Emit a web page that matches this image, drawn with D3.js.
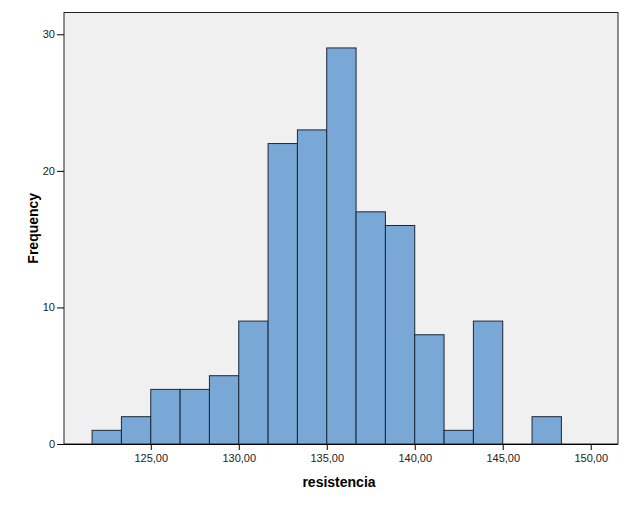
<!DOCTYPE html>
<html><head><meta charset="utf-8">
<script src="https://cdn.jsdelivr.net/npm/d3@7"></script>
<style>body{margin:0;background:#fff;}svg{display:block;}</style>
</head><body>
<script>
const binStart = 121.6667;
const binWidth = 5/3;
const counts = [1, 2, 4, 4, 5, 9, 22, 23, 29, 17, 16, 8, 1, 9, 0, 2];
const xTicks = [125, 130, 135, 140, 145, 150];
const yTicks = [0, 10, 20, 30];
const xTitle = "resistencia";
const yTitle = "Frequency";

const W = 631, H = 506;
const L = 64, R = 618, T = 12.5, B = 444;
const svg = d3.select("body").append("svg").attr("width", W).attr("height", H);
const x = d3.scaleLinear().domain([120.07, 151.55]).range([L, R]);
const y = d3.scaleLinear().domain([0, 30]).range([B, 34.3]);

svg.append("rect").attr("x", L).attr("y", T).attr("width", R - L).attr("height", B - T)
  .attr("fill", "#f0f0f0").attr("stroke", "#222").attr("stroke-width", 1);

const bins = counts.map((c, i) => ({x0: binStart + i * binWidth, x1: binStart + (i + 1) * binWidth, c}));
svg.append("g").selectAll("rect").data(bins.filter(d => d.c > 0)).join("rect")
  .attr("x", d => x(d.x0)).attr("width", d => x(d.x1) - x(d.x0))
  .attr("y", d => y(d.c)).attr("height", d => y(0) - y(d.c))
  .attr("fill", "#7aa8d6").attr("stroke", "#1b2735").attr("stroke-width", 1);

const xa = svg.append("g").attr("transform", `translate(0,${B})`)
  .call(d3.axisBottom(x).tickValues(xTicks).tickSize(6).tickPadding(4)
    .tickFormat(d => d3.format(".2f")(d).replace(".", ",")));
xa.select(".domain").attr("d", `M${L - 7},0.5H${R}`).attr("stroke", "#000");
const ya = svg.append("g").attr("transform", `translate(${L},0)`)
  .call(d3.axisLeft(y).tickValues(yTicks).tickSize(7).tickPadding(2));
ya.select(".domain").remove();
svg.selectAll(".tick line").attr("stroke", "#000");
svg.selectAll(".tick text").attr("font-family", "Liberation Sans, Arial, sans-serif")
  .attr("font-size", 11).attr("fill", "#222");

svg.append("text").attr("x", (L + R) / 2 - 2).attr("y", 487).attr("text-anchor", "middle")
  .attr("font-family", "Liberation Sans, Arial, sans-serif").attr("font-weight", "bold")
  .attr("font-size", 14).attr("fill", "#000").text(xTitle);
svg.append("text").attr("transform", `translate(38,${(T + B) / 2}) rotate(-90)`)
  .attr("text-anchor", "middle")
  .attr("font-family", "Liberation Sans, Arial, sans-serif").attr("font-weight", "bold")
  .attr("font-size", 14).attr("fill", "#000").text(yTitle);
</script>
</body></html>
